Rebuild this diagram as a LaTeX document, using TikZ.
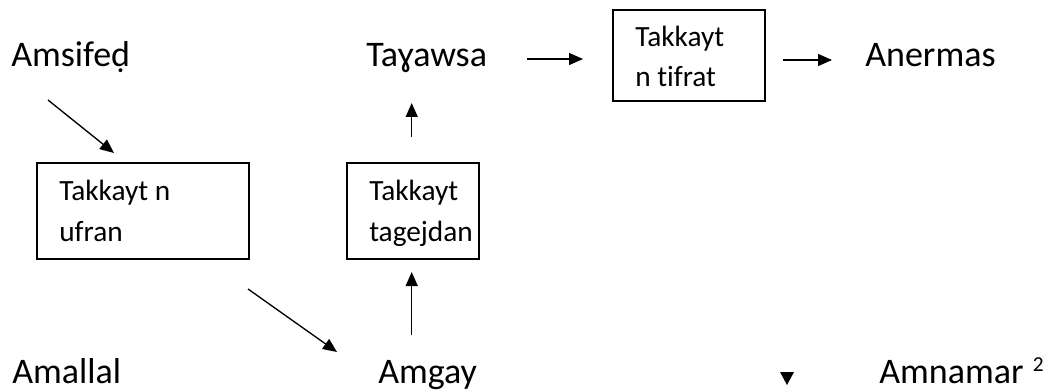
\documentclass[tikz,border=0pt]{standalone}
\usepackage{fontspec}
\setmainfont{Carlito}[Ligatures=CommonOff]
\usetikzlibrary{arrows.meta}
\begin{document}
\begin{tikzpicture}[x=0.75pt,y=-0.75pt,
  lbl/.style={anchor=base west,inner sep=0pt,font=\fontsize{27}{32}\selectfont},
  boxtxt/.style={anchor=base west,inner sep=0pt,font=\fontsize{22}{26}\selectfont},
  frame/.style={draw,line width=1pt},
  arr/.style={line width=1pt,-{Triangle[length=10.5pt,width=9pt]}}]
\useasboundingbox (0,0) rectangle (1049,392);
% boxes
\draw[frame] (37,163) rectangle (249,259);
\draw[frame] (347,163) rectangle (479,259);
\draw[frame] (613,10) rectangle (765,101);
% box texts
\node[boxtxt] (b1a) at (59,200) {Takkayt n};
\node[boxtxt] (b1b) at (59,241.7) {ufran};
\node[boxtxt] (b2a) at (369,200) {Takkayt};
\node[boxtxt] (b2b) at (369,241.7) {tagejdan};
\node[boxtxt] (b3a) at (635,46.7) {Takkayt};
\node[boxtxt] (b3b) at (635,86.7) {n tifrat};
% labels
\node[lbl] (amsifed) at (11,66.7) {Amsifeḍ};
\node[lbl] (tayawsa) at (366,66.7) {Taɣawsa};
\node[lbl] (anermas) at (865,66.7) {Anermas};
\node[lbl] (amallal) at (12,383) {Amallal};
\node[lbl] (amgay) at (378,383) {Amgay};
\node[lbl] (amnamar) at (879,383) {Amnamar\hspace{7pt}\raisebox{9pt}{\fontsize{16}{16}\selectfont 2}};
% arrow endpoints
\coordinate (a1s) at (48,100);  \coordinate (a1e) at (114,153);
\coordinate (a2s) at (248,289); \coordinate (a2e) at (337,352);
\coordinate (a3s) at (411.7,137); \coordinate (a3e) at (411.7,103);
\coordinate (a4s) at (411.7,335); \coordinate (a4e) at (411.7,272);
\coordinate (a5s) at (527,59);  \coordinate (a5e) at (583,59);
\coordinate (a6s) at (783,60);  \coordinate (a6e) at (832,60);
\draw[arr] (a1s) -- (a1e);
\draw[arr] (a2s) -- (a2e);
\draw[arr] (a3s) -- (a3e);
\draw[arr] (a4s) -- (a4e);
\draw[arr] (a5s) -- (a5e);
\draw[arr] (a6s) -- (a6e);
% small triangle
\fill (780,372) -- (794,372) -- (787,385) -- cycle;
\end{tikzpicture}
\end{document}
